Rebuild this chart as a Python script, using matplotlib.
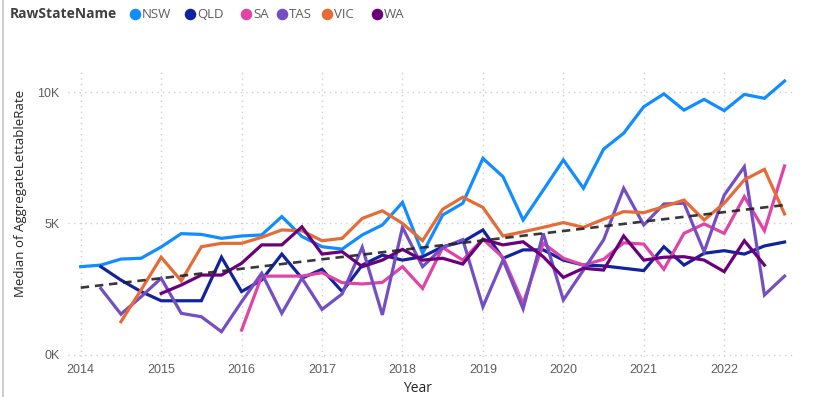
import numpy as np
import matplotlib
matplotlib.use("Agg")
import matplotlib.pyplot as plt
from matplotlib import font_manager
from matplotlib.lines import Line2D

nan = np.nan
years = [2014, 2015, 2016, 2017, 2018, 2019, 2020, 2021, 2022]
periods = [y + q / 4 for y in years for q in range(4)]
states = ["NSW", "QLD", "SA", "TAS", "VIC", "WA"]
colors = ["#118DFF", "#12239E", "#E044A7", "#744EC2", "#E66C37", "#6B007B"]

nsw = [3350, 3410, 3640, 3670, 4100, 4610, 4580, 4430, 4520, 4560, 5260, 4500,
       4110, 4020, 4560, 4940, 5800, 3860, 5320, 5770, 7480, 6780, 5130, 6270,
       7420, 6340, 7830, 8440, 9450, 9940, 9320, 9730, 9300, 9920, 9770, 10430]
qld = [nan, 3350, 2840, 2400, 2050, 2050, 2050, 3710, 2400, 2840, 3830, 2910,
       3250, 2400, 3410, 3790, 3600, 3730, 4110, 4300, 4750, 3670, 3990, 3990,
       3600, 3410, 3380, 3290, 3200, 4110, 3410, 3860, 3960, 3830, 4140, 4290]
sa = [nan, nan, nan, nan, nan, nan, nan, nan, 930, 2990, 2990, 2990,
      3120, 2740, 2690, 2750, 3350, 2520, 4080, 3600, 4400, 3700, 1950, 4240,
      3670, 3410, 3630, 4260, 4210, 3250, 4620, 4980, 4620, 6020, 4720, 7190]
tas = [nan, 2520, 1540, 2200, 2910, 1570, 1440, 870, 2010, 3100, 1570, 2910,
       1720, 2310, 4090, 1510, 4850, 3350, 4080, 4380, 1820, 3600, 1740, 4620,
       2080, 3220, 4370, 6340, 4940, 5740, 5770, 3920, 6080, 7160, 2270, 2990]
vic = [nan, nan, 1250, 2460, 3710, 2810, 4110, 4240, 4240, 4470, 4750, 4720,
       4340, 4430, 5190, 5480, 5000, 4340, 5540, 6000, 5610, 4520, 4680, 4850,
       5030, 4850, 5160, 5450, 5410, 5640, 5890, 5130, 5770, 6660, 7060, 5360]
wa = [nan, nan, nan, nan, 2330, 2650, 3030, 3030, 3480, 4180, 4180, 4870,
      3830, 3920, 3350, 3600, 4010, 3600, 3670, 3450, 4390, 4180, 4300, 3730,
      2940, 3290, 3220, 4520, 3600, 3710, 3730, 3600, 3160, 4340, 3410, nan]
series = [nsw, qld, sa, tas, vic, wa]

trend_x = [2014.0, 2022.75]
trend_y = [2550, 5700]

y_ticks = [0, 5000, 10000]
y_tick_labels = ["0K", "5K", "10K"]

# fonts
avail = {f.name for f in font_manager.fontManager.ttflist}
narrow = "Liberation Sans Narrow" if "Liberation Sans Narrow" in avail else "Liberation Sans"
main_font = "Open Sans" if "Open Sans" in avail else "DejaVu Sans"

W, H = 813, 397
fig = plt.figure(figsize=(W / 100, H / 100), dpi=100)
fig.patch.set_facecolor("white")

def fx(px):
    return px / W

def fy(py):
    return 1 - py / H

ax = fig.add_axes([fx(68), fy(357), fx(793) - fx(68), fy(70) - fy(357)])
ax.set_xlim(2013.842, 2022.855)
ax.set_ylim(-95, 10850)

for vals, c in zip(series, colors):
    ax.plot(periods, vals, color=c, lw=2.3, solid_joinstyle="miter", zorder=3)

ax.plot(trend_x, trend_y, color="#222222", lw=1.9, ls=(0, (3.2, 2.2)), alpha=0.9, zorder=4)

ax.set_xticks(years)
ax.set_xticklabels([str(y) for y in years], fontfamily=narrow, fontsize=9, color="#605E5C")
ax.set_yticks(y_ticks)
ax.set_yticklabels(y_tick_labels, fontfamily=narrow, fontsize=9, color="#605E5C")
ax.tick_params(length=0, pad=6)
ax.tick_params(axis="x", pad=5)
ax.grid(True, color="#CFCFCF", ls=(0, (1, 3)), lw=1)
for s in ax.spines.values():
    s.set_visible(False)
ax.set_axisbelow(True)

fig.text(fx(417), fy(388), "Year", ha="center", va="center", fontsize=10,
         fontfamily=main_font, color="#252423")
fig.text(fx(21), fy(193), "Median of AggregateLettableRate", ha="center", va="center",
         rotation=90, fontsize=9.5, fontfamily=main_font, color="#252423")

# legend
fig.text(fx(10), fy(14), "RawStateName", ha="left", va="center", fontsize=10,
         fontweight="bold", fontfamily=main_font, color="#404040")
dot_x = [135, 190, 246, 282, 327, 377]
for st, c, dx in zip(states, colors, dot_x):
    fig.add_artist(Line2D([fx(dx)], [fy(14)], marker="o", markersize=7.3,
                          color=c, transform=fig.transFigure, lw=0))
    fig.text(fx(dx + 7), fy(14), st, ha="left", va="center", fontsize=9.5,
             fontfamily=main_font, color="#605E5C")

# left border of visual
fig.add_artist(Line2D([fx(2.5), fx(2.5)], [0, 1], color="#C8C6C4", lw=1.2,
                      transform=fig.transFigure))

fig.savefig("out.png", dpi=100)
